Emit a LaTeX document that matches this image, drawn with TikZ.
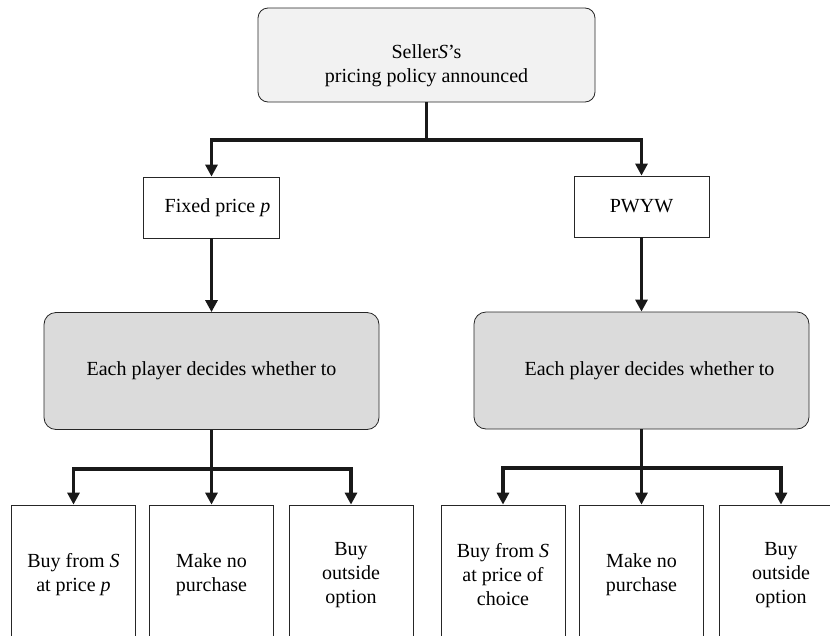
\documentclass[tikz,border=0pt]{standalone}
\usepackage{fontspec}
\setmainfont{Liberation Serif}
\usetikzlibrary{arrows.meta}
\tikzset{
    policybox/.style={draw=black!85, line width=.8pt, rounded corners=10pt, fill=black!5,
        minimum width=337pt, minimum height=94pt, align=center},
    pricebox/.style={draw=black!85, line width=.8pt, fill=white, minimum height=61pt},
    decidebox/.style={draw=black!85, line width=.8pt, rounded corners=12pt, fill=black!14,
        minimum width=335pt, minimum height=117pt},
    optbox/.style={draw=black!85, line width=.8pt, fill=white, minimum width=124pt,
        minimum height=140pt, align=center},
    conn/.style={line width=3.2pt, draw=black!90, -{Triangle[width=12pt, length=12pt]}}
}
\begin{document}
\begin{tikzpicture}[x=1pt, y=-1pt, font=\fontsize{20}{24}\selectfont]
        \clip (0, 0) rectangle (830, 635);
        \node[policybox] (policy) at (426.5, 55) {\raisebox{-16pt}[0pt][0pt]{\begin{tabular}{@{}c@{}}Seller\textit{S}'s\\pricing policy announced\end{tabular}}};
        \node[pricebox, minimum width=136pt] (fixed) at (211.5, 207.5) {\hspace{12pt}Fixed price \textit{p}};
        \node[pricebox, minimum width=135pt] (pwyw) at (641.5, 206.5) {PWYW};
        \node[decidebox] (decL) at (211.5, 371) {Each player decides whether to};
        \node[decidebox] (decR) at (641.5, 370.5) {\hspace{16pt}Each player decides whether to};
        \node[optbox] (buyL) at (73.5, 575) {Buy from \textit{S}\\at price \textit{p}};
        \node[optbox] (noL) at (211.5, 575) {Make no\\purchase};
        \node[optbox] (outL) at (351, 575) {Buy\\outside\\option};
        \node[optbox] (buyR) at (503, 575) {Buy from \textit{S}\\at price of\\choice};
        \node[optbox] (noR) at (641.5, 575) {Make no\\purchase};
        \node[optbox] (outR) at (781, 575) {Buy\\outside\\option};
        \coordinate (forkT) at (426.5, 140);
        \coordinate (forkL) at (211.5, 469);
        \coordinate (forkR) at (641.5, 468);
        \draw[conn] (policy.south) -- (forkT) -| (fixed.north);
        \draw[conn] (forkT) -| (pwyw.north);
        \draw[conn] (fixed) -- (decL);
        \draw[conn] (pwyw) -- (decR);
        \draw[conn] (decL.south) -- (forkL) -| (buyL.north);
        \draw[conn] (forkL) -- (noL.north);
        \draw[conn] (forkL) -| (outL.north);
        \draw[conn] (decR.south) -- (forkR) -| (buyR.north);
        \draw[conn] (forkR) -- (noR.north);
        \draw[conn] (forkR) -| (outR.north);
\end{tikzpicture}
\end{document}
